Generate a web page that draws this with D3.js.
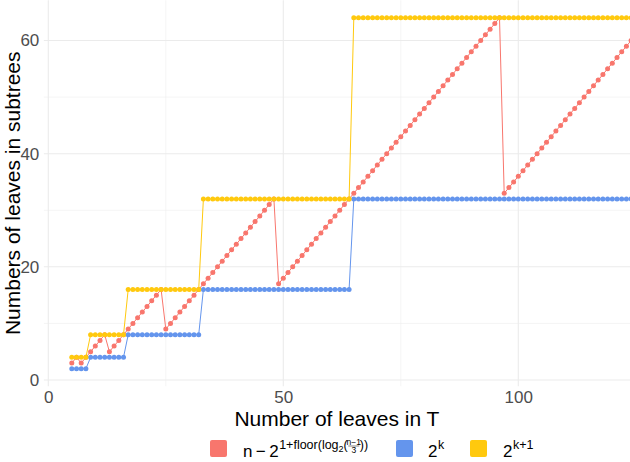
<!DOCTYPE html>
<html><head><meta charset="utf-8">
<script src="https://cdn.jsdelivr.net/npm/d3@7"></script>
<style>html,body{margin:0;padding:0;background:#fff;} svg{display:block;font-family:"Liberation Sans",Arial,Helvetica,sans-serif;}</style>
</head><body>
<svg id="chart" width="630" height="462"></svg>
<script>
// ---- data ----
const nLeaves = [5,6,7,8,9,10,11,12,13,14,15,16,17,18,19,20,21,22,23,24,25,26,27,28,29,30,31,32,33,34,35,36,37,38,39,40,41,42,43,44,45,46,47,48,49,50,51,52,53,54,55,56,57,58,59,60,61,62,63,64,65,66,67,68,69,70,71,72,73,74,75,76,77,78,79,80,81,82,83,84,85,86,87,88,89,90,91,92,93,94,95,96,97,98,99,100,101,102,103,104,105,106,107,108,109,110,111,112,113,114,115,116,117,118,119,120,121,122,123,124];
const redVals = [3,4,3,4,5,6,7,8,
  5,6,7,8,9,10,11,12,13,14,15,16,
  9,10,11,12,13,14,15,16,17,18,19,20,21,22,23,24,25,26,27,28,29,30,31,32,
  17,18,19,20,21,22,23,24,25,26,27,28,29,30,31,32,33,34,35,36,37,38,39,40,41,42,43,44,45,46,47,48,49,50,51,52,53,54,55,56,57,58,59,60,61,62,63,64,
  33,34,35,36,37,38,39,40,41,42,43,44,45,46,47,48,49,50,51,52,53,54,55,56,57,58,59,60];
const blueVals = [2,2,2,2,
  4,4,4,4,4,4,4,4,
  8,8,8,8,8,8,8,8,8,8,8,8,8,8,8,8,
  16,16,16,16,16,16,16,16,16,16,16,16,16,16,16,16,16,16,16,16,16,16,16,16,16,16,16,16,16,16,16,16,
  32,32,32,32,32,32,32,32,32,32,
  32,32,32,32,32,32,32,32,32,32,
  32,32,32,32,32,32,32,32,32,32,
  32,32,32,32,32,32,32,32,32,32,
  32,32,32,32,32,32,32,32,32,32,
  32,32,32,32,32,32,32,32,32,32];
const yellowVals = [4,4,4,4,
  8,8,8,8,8,8,8,8,
  16,16,16,16,16,16,16,16,16,16,16,16,16,16,16,16,
  32,32,32,32,32,32,32,32,32,32,32,32,32,32,32,32,32,32,32,32,32,32,32,32,32,32,32,32,32,32,32,32,
  64,64,64,64,64,64,64,64,64,64,
  64,64,64,64,64,64,64,64,64,64,
  64,64,64,64,64,64,64,64,64,64,
  64,64,64,64,64,64,64,64,64,64,
  64,64,64,64,64,64,64,64,64,64,
  64,64,64,64,64,64,64,64,64,64];
const xTicks = [0,50,100];
const xMinor = [25,75,125];
const yTicks = [0,20,40,60];
const yMinor = [10,30,50];
const seriesNames = ["red","blue","yellow"];
const seriesColors = ["#F8766D","#6495ED","#FFC90E"];

// ---- layout ----
const svg = d3.select("#chart");
const x = d3.scaleLinear().domain([0,100]).range([48.3,518.3]);
const y = d3.scaleLinear().domain([0,60]).range([380,40.5]);
const pL = x(-0.95), pR = 630, pT = y(67.1), pB = y(-1.1);

svg.append("defs").append("clipPath").attr("id","clip")
  .append("rect").attr("x",pL).attr("y",pT).attr("width",pR-pL).attr("height",pB-pT);

const grid = svg.append("g");
grid.selectAll(".ymin").data(yMinor).join("line")
  .attr("x1",pL).attr("x2",pR).attr("y1",d=>y(d)).attr("y2",d=>y(d))
  .attr("stroke","#EBEBEB").attr("stroke-width",0.55);
grid.selectAll(".xmin").data(xMinor.filter(d=>x(d)<pR)).join("line")
  .attr("y1",pT).attr("y2",pB).attr("x1",d=>x(d)).attr("x2",d=>x(d))
  .attr("stroke","#EBEBEB").attr("stroke-width",0.55);
grid.selectAll(".ymaj").data(yTicks).join("line")
  .attr("x1",pL).attr("x2",pR).attr("y1",d=>y(d)).attr("y2",d=>y(d))
  .attr("stroke","#EBEBEB").attr("stroke-width",1.07);
grid.selectAll(".xmaj").data(xTicks).join("line")
  .attr("y1",pT).attr("y2",pB).attr("x1",d=>x(d)).attr("x2",d=>x(d))
  .attr("stroke","#EBEBEB").attr("stroke-width",1.07);

// axes
const ax = svg.append("g").attr("transform",`translate(0,${pB})`)
  .call(d3.axisBottom(x).tickValues(xTicks).tickSize(0).tickPadding(5));
const ay = svg.append("g").attr("transform",`translate(${pL},0)`)
  .call(d3.axisLeft(y).tickValues(yTicks).tickSize(0).tickPadding(4.5));
[ax,ay].forEach(a=>{
  a.select(".domain").remove();
  a.selectAll("text").attr("fill","#4D4D4D").style("font-size","17px")
   .style("font-family","'Liberation Sans',Arial,sans-serif");
});

// series
const plot = svg.append("g").attr("clip-path","url(#clip)");
const seriesVals = [redVals, blueVals, yellowVals];
seriesVals.forEach((vals,i)=>{
  const data = nLeaves.map((n,j)=>({n, v: vals[j]}));
  const line = d3.line().x(d=>x(d.n)).y(d=>y(d.v));
  plot.append("path").datum(data).attr("d",line).attr("fill","none")
    .attr("stroke",seriesColors[i]).attr("stroke-width",1);
  plot.selectAll(".pt"+i).data(data).join("circle")
    .attr("cx",d=>x(d.n)).attr("cy",d=>y(d.v)).attr("r",2.5)
    .attr("fill",seriesColors[i]);
});

// axis titles
svg.append("text").attr("x",(pL+pR)/2).attr("y",426).attr("text-anchor","middle")
  .style("font-size","21px").attr("fill","#000").text("Number of leaves in T");
svg.append("text").attr("transform",`translate(19.5,${(pT+pB)/2}) rotate(-90)`)
  .attr("text-anchor","middle").style("font-size","21px").attr("fill","#000")
  .text("Numbers of leaves in subtrees");

// legend
const lg = svg.append("g");
const keyY = 440, keyS = 17, base = 457, supBase = 449;
function piece(xp, yp, size, txt){
  const t = lg.append("text").attr("x",xp).attr("y",yp).style("font-size",size+"px").attr("fill","#000").text(txt);
  return xp + t.node().getComputedTextLength();
}
[[210,0],[396,1],[470,2]].forEach(([kx,i])=>{
  lg.append("rect").attr("x",kx).attr("y",keyY).attr("width",keyS).attr("height",keyS)
    .attr("rx",2).attr("fill",seriesColors[i]);
});
// red label: n − 2^{1+floor(log_2((n−1)/3))}
let cx = piece(243, base, 17, "n\u2009\u2212\u20092");
cx = piece(cx+0.5, supBase, 12.5, "1+floor(log");
cx = piece(cx, supBase+3, 9, "2");
cx = piece(cx, supBase, 12.5, "(");
const fw = 12;
lg.append("text").attr("x",cx+fw/2).attr("y",supBase-4.5).attr("text-anchor","middle")
  .style("font-size","8.5px").text("n\u22121");
lg.append("line").attr("x1",cx+0.5).attr("x2",cx+fw-0.5).attr("y1",supBase-3).attr("y2",supBase-3)
  .attr("stroke","#000").attr("stroke-width",0.5);
lg.append("text").attr("x",cx+fw/2).attr("y",supBase+4).attr("text-anchor","middle")
  .style("font-size","8.5px").text("3");
cx = piece(cx+fw, supBase, 12.5, "))");
// blue label
cx = piece(428, base, 17, "2");
piece(cx+0.5, supBase, 12.5, "k");
// yellow label
cx = piece(503, base, 17, "2");
piece(cx+0.5, supBase, 12.5, "k+1");
</script>
</body></html>
